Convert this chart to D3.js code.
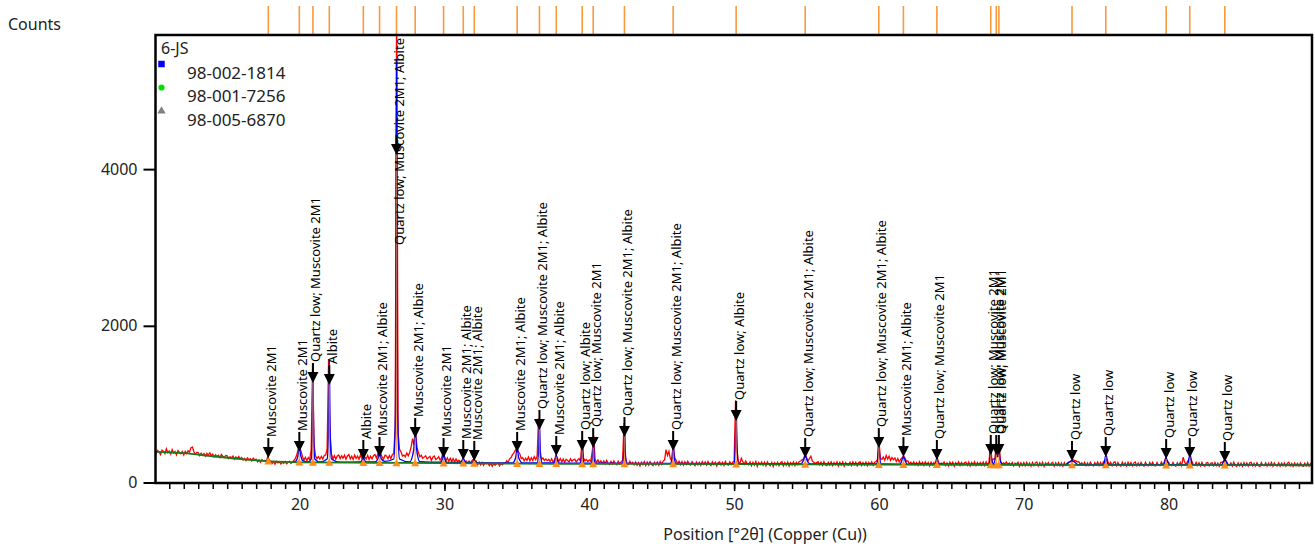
<!DOCTYPE html>
<html>
<head>
<meta charset="utf-8">
<script src="https://cdn.jsdelivr.net/npm/d3@7"></script>
<style>
  body { margin: 0; background: #fff; }
  svg { display: block; font-family: "Noto Sans", sans-serif; }
</style>
</head>
<body>
<svg id="chart" width="1315" height="544"></svg>
<script>
// observed scan, 10.0 .. 89.9 deg, step 0.1 (one row per degree)
var scanStart = 10.0, scanStep = 0.1;
var obsCounts = [
  425,372,410,388,356,414,397,368,431,380,
  402,361,419,375,396,352,408,383,366,397,
  352,398,371,405,388,445,452,392,361,384,
  381,344,375,349,368,336,372,351,380,342,
  361,326,354,331,348,318,357,335,323,346,
  341,306,330,312,337,298,325,309,331,302,
  318,286,309,279,313,291,305,276,311,288,
  296,265,289,258,292,271,283,262,335,288,
  272,241,266,235,270,249,263,238,259,244,
  268,239,256,271,243,262,281,305,352,421,
  455,398,330,286,322,279,318,291,420,1520,
  480,338,306,329,297,334,301,345,352,430,
  1560,620,365,301,342,296,338,352,305,341,
  311,348,296,339,357,302,335,294,349,308,
  338,297,351,306,360,322,301,347,293,336,
  303,341,356,312,368,395,372,322,301,349,
  338,302,345,306,355,372,700,6200,640,420,
  392,338,351,329,375,341,383,455,560,482,
  670,455,385,328,346,309,324,341,301,319,
  332,284,322,338,294,305,329,288,311,380,
  336,278,315,272,309,267,305,262,301,266,
  284,262,279,305,258,276,251,273,249,278,
  298,236,268,229,261,224,257,219,252,238,
  251,214,246,208,243,221,239,249,212,244,
  226,251,245,278,259,302,318,355,381,412,
  438,395,368,306,318,278,311,283,325,276,
  316,281,329,292,336,820,362,298,312,282,
  301,279,296,268,303,262,285,350,309,269,
  305,263,299,258,296,281,264,301,272,289,
  298,261,287,305,268,560,315,276,294,266,
  288,272,380,600,300,255,289,249,278,243,
  275,238,282,246,231,270,235,276,242,228,
  271,235,262,283,760,318,246,231,270,239,
  258,224,262,219,255,211,259,228,266,218,
  261,222,266,231,214,259,226,262,219,268,
  231,274,289,420,346,398,302,275,470,318,
  281,236,272,229,268,222,265,229,271,233,
  222,266,238,214,262,226,258,218,267,230,
  262,221,269,235,216,264,228,259,211,255,
  264,224,258,216,269,229,221,265,231,259,
  270,1050,420,262,245,310,266,232,275,239,
  226,263,214,258,222,268,206,255,226,261,
  219,259,211,264,228,214,257,203,253,221,
  259,215,251,266,212,256,219,261,208,252,
  223,264,216,257,229,268,274,292,298,356,
  318,279,305,335,272,258,241,254,266,226,
  259,219,266,226,215,258,224,263,216,255,
  226,264,212,257,222,261,208,254,224,219,
  257,216,263,225,259,212,252,266,219,254,
  223,261,214,256,227,264,219,258,268,292,
  540,305,296,326,284,345,298,336,282,318,
  292,312,268,305,261,296,318,338,311,272,
  276,238,257,231,262,225,254,219,266,226,
  258,216,264,225,256,211,261,222,254,218,
  330,268,229,249,238,262,216,251,213,261,
  222,259,209,254,226,264,216,256,221,251,
  259,218,262,212,255,223,264,215,257,224,
  254,219,261,216,264,224,258,520,268,302,
  300,478,330,455,275,232,251,238,262,229,
  249,222,256,211,246,232,259,206,251,215,
  254,213,258,219,251,208,257,216,249,261,
  210,252,218,259,205,250,229,256,221,242,
  258,208,251,218,256,213,249,206,254,220,
  248,256,268,279,292,281,276,263,266,231,
  252,224,258,213,249,216,259,225,211,254,
  223,260,216,255,220,264,226,345,272,226,
  257,215,252,264,213,255,222,208,259,219,
  251,210,260,219,254,213,250,262,215,248,
  216,256,223,208,258,225,214,255,220,259,
  218,211,256,223,216,260,225,262,318,271,
  259,220,215,255,223,208,252,218,258,215,
  322,264,228,268,295,348,276,229,220,259,
  216,251,211,256,218,206,249,254,214,246,
  251,213,255,216,248,208,257,258,275,292,
  266,228,215,249,210,258,218,205,252,214,
  247,206,254,215,249,209,251,258,213,244,
  211,251,216,203,255,220,214,252,208,248,
  215,255,206,249,218,212,251,209,247,216,
  250,208,245,258,213,244,206,250,215,246,
  211,249,216,205,247,214,254,209,243,213
];

// fitted background [2theta, counts]
var background = [
  [10.05,392],[12,375],[14,335],[16,298],[18,270],[20,258],[25,252],[30,248],
  [35,240],[40,238],[50,235],[60,228],[70,224],[80,222],[89.9,220]
];

// calculated profile [2theta, counts]
var calcProfile = [
  [19.5,258],[19.75,275],[19.9,360],[19.98,466],[20.06,360],[20.25,275],[20.6,262],
  [20.8,300],[20.88,700],[20.92,1500],[20.96,700],[21.05,300],[21.4,262],
  [21.9,300],[22.0,700],[22.05,1560],[22.1,700],[22.2,300],[22.8,258],
  [24.2,262],[24.33,290],[24.4,340],[24.47,290],[24.6,262],
  [25.2,262],[25.4,300],[25.52,390],[25.64,300],[25.9,270],
  [26.5,300],[26.62,900],[26.69,5400],[26.76,900],[26.9,300],
  [27.6,262],[27.88,420],[27.98,650],[28.08,420],[28.3,265],
  [29.7,258],[29.86,300],[29.94,376],[30.02,300],[30.2,255],
  [31.1,255],[31.24,285],[31.3,310],[31.36,285],[31.5,252],
  [31.9,252],[32.0,275],[32.06,290],[32.12,275],[32.3,250],
  [34.7,250],[34.92,320],[35.02,440],[35.12,320],[35.4,248],
  [36.4,250],[36.5,400],[36.56,780],[36.62,400],[36.75,250],
  [37.55,248],[37.66,300],[37.72,350],[37.78,300],[37.9,246],
  [39.38,246],[39.46,330],[39.51,540],[39.56,330],[39.65,246],
  [40.15,246],[40.22,330],[40.27,570],[40.32,330],[40.42,246],
  [42.3,244],[42.38,400],[42.43,735],[42.48,400],[42.58,244],
  [45.6,242],[45.72,320],[45.79,480],[45.86,320],[46.0,242],
  [50.0,240],[50.09,500],[50.14,1015],[50.19,500],[50.3,240],
  [54.6,238],[54.8,290],[54.91,350],[55.02,290],[55.25,238],
  [59.85,236],[59.94,360],[59.99,540],[60.04,360],[60.15,236],
  [61.45,234],[61.6,290],[61.69,330],[61.78,290],[61.95,234],
  [63.88,232],[63.96,280],[64.0,310],[64.04,280],[64.15,232],
  [67.6,230],[67.68,320],[67.72,480],[67.76,320],[67.9,240],
  [68.05,320],[68.1,430],[68.16,330],[68.23,330],[68.28,450],[68.34,310],[68.5,230],
  [72.9,228],[73.15,262],[73.33,275],[73.5,262],[73.75,228],
  [75.5,228],[75.6,290],[75.66,350],[75.72,290],[75.85,228],
  [79.65,226],[79.76,280],[79.83,312],[79.9,280],[80.05,226],
  [81.3,226],[81.4,300],[81.46,340],[81.52,300],[81.65,226],
  [83.65,224],[83.8,270],[83.88,290],[83.96,270],[84.15,224],
  [89.9,220]
];

// identified peaks
var peakPos = [17.84,19.98,20.92,22.05,24.40,25.52,26.69,27.98,29.94,31.30,32.06,
  35.02,36.56,37.72,39.51,40.27,42.43,45.79,50.14,54.91,59.99,61.69,64.00,
  67.72,68.10,68.28,73.33,75.66,79.83,81.46,83.88];
var stickCounts = [300,420,1450,1500,320,350,4200,600,330,300,280,
  380,760,330,520,560,720,450,1000,300,520,300,300,
  500,420,440,260,330,300,330,270];
var arrowCounts = [313,390,1270,1245,287,325,4180,568,313,287,275,
  390,670,338,402,440,581,402,785,313,440,325,287,
  351,351,351,275,325,300,313,262];
var peakLabels = [
  "Muscovite 2M1", "Muscovite 2M1", "Quartz low; Muscovite 2M1", "Albite", "Albite",
  "Muscovite 2M1; Albite", "Quartz low; Muscovite 2M1; Albite", "Muscovite 2M1; Albite",
  "Muscovite 2M1", "Muscovite 2M1; Albite", "Muscovite 2M1; Albite",
  "Muscovite 2M1; Albite", "Quartz low; Muscovite 2M1; Albite", "Muscovite 2M1; Albite",
  "Quartz low; Albite", "Quartz low; Muscovite 2M1", "Quartz low; Muscovite 2M1; Albite",
  "Quartz low; Muscovite 2M1; Albite", "Quartz low; Albite", "Quartz low; Muscovite 2M1; Albite",
  "Quartz low; Muscovite 2M1; Albite", "Muscovite 2M1; Albite", "Quartz low; Muscovite 2M1",
  "Quartz low; Muscovite 2M1", "Quartz low; Muscovite 2M1", "Quartz low; Muscovite 2M1",
  "Quartz low", "Quartz low", "Quartz low", "Quartz low", "Quartz low"
];

var xTicks = [20, 30, 40, 50, 60, 70, 80];
var yTicks = [0, 2000, 4000];
var sampleName = "6-JS";
var refCodes = ["98-002-1814", "98-001-7256", "98-005-6870"];
var refColors = ["#0000ff", "#00e000", "#808080"];

var svg = d3.select("#chart"),
    plot = {left: 155.5, right: 1312, top: 35, bottom: 483};

var x = d3.scaleLinear().domain([10.05, 89.9]).range([plot.left, plot.right]);
var y = d3.scaleLinear().domain([0, 5712]).range([482.5, plot.top]);

svg.append("defs").append("clipPath").attr("id", "plotClip")
  .append("rect")
    .attr("x", plot.left).attr("y", plot.top)
    .attr("width", plot.right - plot.left).attr("height", plot.bottom - plot.top);

var obs = obsCounts.map(function(c, i) { return [scanStart + i * scanStep, c]; });
var line = d3.line().x(function(d) { return x(d[0]); }).y(function(d) { return y(d[1]); });
var smooth = d3.line().curve(d3.curveMonotoneX).x(function(d) { return x(d[0]); }).y(function(d) { return y(d[1]); });

var g = svg.append("g").attr("clip-path", "url(#plotClip)");

g.append("path").datum(obs)
  .attr("d", line)
  .attr("fill", "none").attr("stroke", "#ff0000").attr("stroke-width", 1.3);

g.append("path").datum(calcProfile)
  .attr("d", smooth)
  .attr("fill", "none").attr("stroke", "#0000ff").attr("stroke-width", 1.4);

g.append("path").datum(background)
  .attr("d", smooth)
  .attr("fill", "none").attr("stroke", "#1a7a1a").attr("stroke-width", 1.8);

function bgAt(p) {
  var i = d3.bisector(function(d) { return d[0]; }).left(background, p);
  var a = background[Math.max(0, i - 1)], b = background[Math.min(background.length - 1, i)];
  if (a === b) return a[1];
  return a[1] + (b[1] - a[1]) * (p - a[0]) / (b[0] - a[0]);
}

// reference sticks in the plot
g.selectAll(".stick").data(peakPos).enter().append("line")
  .attr("x1", function(d) { return x(d); }).attr("x2", function(d) { return x(d); })
  .attr("y1", function(d) { return y(bgAt(d)); })
  .attr("y2", function(d, i) { return y(stickCounts[i]); })
  .attr("stroke", "#ff8c1a").attr("stroke-width", 1.5).attr("stroke-opacity", 0.7);

g.selectAll(".base").data(peakPos).enter().append("path")
  .attr("d", d3.symbol().type(d3.symbolTriangle).size(28))
  .attr("transform", function(d) { return "translate(" + x(d) + "," + (y(bgAt(d)) + 1) + ")"; })
  .attr("fill", "#ff8c1a");

// peak list above the frame
svg.append("g").selectAll("line").data(peakPos).enter().append("line")
  .attr("x1", function(d) { return x(d); }).attr("x2", function(d) { return x(d); })
  .attr("y1", 6).attr("y2", plot.top)
  .attr("stroke", "#f99a3c").attr("stroke-width", 1.6);

// arrows + labels
var marks = svg.append("g");
peakPos.forEach(function(p, i) {
  var px = x(p), tip = y(arrowCounts[i]);
  marks.append("line")
    .attr("x1", px).attr("x2", px).attr("y1", tip - 20).attr("y2", tip - 9)
    .attr("stroke", "#000").attr("stroke-width", 2);
  marks.append("path")
    .attr("d", "M" + (px - 5.5) + "," + (tip - 11) + "L" + (px + 5.5) + "," + (tip - 11) + "L" + px + "," + tip + "Z")
    .attr("fill", "#000");
  var t = marks.append("text")
    .attr("font-size", 13).attr("fill", "#000")
    .text(peakLabels[i]);
  var len = t.node().getComputedTextLength();
  var start = Math.max(tip - 21, plot.top + 3 + len);
  t.attr("transform", "translate(" + (px + 7.5) + "," + start + ") rotate(-90)");
});

// axes
var xMinor = svg.append("g").attr("transform", "translate(0," + plot.bottom + ")")
  .call(d3.axisBottom(x).tickValues(d3.range(11, 90)).tickSize(6).tickFormat(""));
var xAxis = svg.append("g").attr("transform", "translate(0," + plot.bottom + ")")
  .call(d3.axisBottom(x).tickValues(xTicks).tickSize(8).tickPadding(8).tickSizeOuter(0));
var yAxis = svg.append("g").attr("transform", "translate(" + plot.left + ",0)")
  .call(d3.axisLeft(y).tickValues(yTicks).tickFormat(d3.format("d")).tickSize(12).tickPadding(6).tickSizeOuter(0));

[xMinor, xAxis, yAxis].forEach(function(a) {
  a.select(".domain").remove();
  a.selectAll("line").attr("stroke", "#000").attr("stroke-width", 1.5);
  a.selectAll("text").attr("font-family", "Noto Sans").attr("font-size", 16).attr("fill", "#222");
});
yAxis.selectAll("line").attr("stroke-width", 2);

// frame
svg.append("rect")
  .attr("x", plot.left).attr("y", plot.top)
  .attr("width", plot.right - plot.left).attr("height", plot.bottom - plot.top)
  .attr("fill", "none").attr("stroke", "#000").attr("stroke-width", 2.5);

svg.append("text").attr("x", 8).attr("y", 30).attr("font-size", 16).attr("fill", "#222").text("Counts");
svg.append("text").attr("x", 765).attr("y", 540).attr("text-anchor", "middle")
  .attr("font-size", 16).attr("fill", "#222").text("Position [°2θ] (Copper (Cu))");

// legend
var legend = svg.append("g");
legend.append("text").attr("x", 161).attr("y", 54).attr("font-size", 16).attr("fill", "#222").text(sampleName);
refCodes.forEach(function(code, i) {
  var cy = 64 + i * 23.5;
  var sym = [d3.symbolSquare, d3.symbolCircle, d3.symbolTriangle][i];
  legend.append("path")
    .attr("d", d3.symbol().type(sym).size(i === 0 ? 42 : 30))
    .attr("transform", "translate(161.5," + cy + ")")
    .attr("fill", refColors[i]);
  legend.append("text").attr("x", 187).attr("y", cy + 14.5)
    .attr("font-size", 17).attr("fill", "#222").text(code);
});
</script>
</body>
</html>
